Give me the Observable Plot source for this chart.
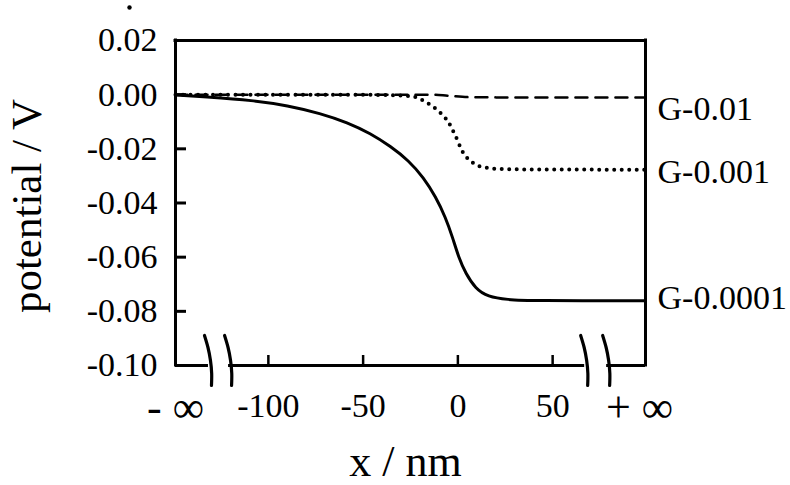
<!DOCTYPE html>
<html><head><meta charset="utf-8">
<script src="https://cdn.jsdelivr.net/npm/d3@7"></script>
<script src="https://cdn.jsdelivr.net/npm/@observablehq/plot@0.6"></script>
<style>
body{margin:0;background:#fff}
#chart{width:790px;height:485px}
</style>
</head><body><div id="chart"></div>
<script>
// ---- data ----
const xDomain = [-149, 99];
const yDomain = [-0.10, 0.02];
const yTicks = [0.02, 0.00, -0.02, -0.04, -0.06, -0.08, -0.10];
const xTicks = [-100, -50, 0, 50];
const infLabels = ["- ∞", "+ ∞"];
const breakX = [-131.6, -121, 66.9, 78.5];
const seriesNames = ["G-0.01", "G-0.001", "G-0.0001"];

const g01X = [-149, -60, -15, -5, 5, 20, 99];
const g01Y = [0, 0, 0, -0.0004, -0.0009, -0.001, -0.001];

const g001X = [-149, -60, -35, -24.1, -20.7, -17, -13.5, -10.2, -7.5, -4.9, -3, -1.2, 0.4, 2.3, 4.6, 7.2, 10.9, 15.5, 19.9, 34.7, 99];
const g001Y = [0, 0, -0.0002, -0.0006, -0.0014, -0.0027, -0.0043, -0.006, -0.008, -0.0102, -0.0128, -0.0153, -0.0179, -0.0208, -0.0231, -0.0248, -0.0263, -0.027, -0.0274, -0.0276, -0.0277];

const g0001X = [-149, -134.2, -107.8, -89.9, -72.5, -58.2, -46.1, -35.5, -26, -18.1, -11.8, -6.5, -2.8, 0.4, 4.1, 9.3, 15.7, 26.2, 38.3, 99];
const g0001Y = [-0.0001, -0.0008, -0.0021, -0.004, -0.0069, -0.0103, -0.0143, -0.0191, -0.0243, -0.0306, -0.0376, -0.0453, -0.0527, -0.0601, -0.066, -0.0716, -0.0746, -0.0757, -0.0761, -0.0761];

// ---- layout ----
const W = 790, H = 485, mL = 175, mR = 145, mT = 40, mB = 120;
const pxX = (W - mL - mR) / (xDomain[1] - xDomain[0]);
const pxY = (H - mT - mB) / (yDomain[1] - yDomain[0]);
const font = "'Liberation Serif', 'Times New Roman', serif";

const toRows = (X, Y) => X.map((x, i) => ({x, y: Y[i]}));
const s01 = toRows(g01X, g01Y), s001 = toRows(g001X, g001Y), s0001 = toRows(g0001X, g0001Y);
const labelDy = [12, 2, -3];
const labelMarks = [[g01X, g01Y], [g001X, g001Y], [g0001X, g0001Y]].map(([X, Y], i) =>
  Plot.text([{name: seriesNames[i], x: X.at(-1), y: Y.at(-1)}], {
    x: "x", y: "y", text: "name", dx: 12, dy: labelDy[i], textAnchor: "start",
    fontSize: 34, fontFamily: font, fill: "black"
  })
);

// break mark shape (pixel offsets) converted to data units
const shape = [[-4, -30], [-0.5, -18], [2, -5], [3.2, 8], [3, 20]];
const breaks = breakX.flatMap((bx, k) => shape.map(([dx, dy]) => ({k, x: bx + dx / pxX, y: yDomain[0] - dy / pxY})));

const bottomSegs = [
  {x1: xDomain[0], x2: breakX[0]},
  {x1: breakX[1], x2: breakX[2]},
  {x1: breakX[3], x2: xDomain[1]}
];
const infRows = [{x: xDomain[0], t: infLabels[0]}, {x: xDomain[1], t: infLabels[1]}];

const chart = Plot.plot({
  width: W, height: H,
  marginLeft: mL, marginRight: mR, marginTop: mT, marginBottom: mB,
  x: {domain: xDomain},
  y: {domain: yDomain},
  style: {fontFamily: font, background: "white", color: "black", overflow: "visible"},
  marks: [
    // frame
    Plot.ruleY([yDomain[1]], {x1: xDomain[0], x2: xDomain[1], stroke: "black", strokeWidth: 3, strokeLinecap: "square"}),
    Plot.ruleX([xDomain[0], xDomain[1]], {y1: yDomain[0], y2: yDomain[1], stroke: "black", strokeWidth: 3, strokeLinecap: "square"}),
    Plot.ruleY(bottomSegs, {y: yDomain[0], x1: "x1", x2: "x2", stroke: "black", strokeWidth: 3}),
    // tick marks (inward)
    Plot.ruleY(yTicks.slice(1, -1), {y: d => d, x1: xDomain[0], x2: xDomain[0] + 11 / pxX, stroke: "black", strokeWidth: 3}),
    Plot.ruleX(xTicks, {x: d => d, y1: yDomain[0], y2: yDomain[0] + 10 / pxY, stroke: "black", strokeWidth: 2.5}),
    // break marks
    Plot.line(breaks, {x: "x", y: "y", z: "k", curve: "natural", stroke: "black", strokeWidth: 3.2}),
    // axes labels
    Plot.axisY({ticks: yTicks, label: null, tickSize: 0, tickPadding: 18, tickFormat: d => d.toFixed(2), fontSize: 34, fontFamily: font}),
    Plot.axisX({ticks: xTicks, label: null, tickSize: 0, tickPadding: 27, tickFormat: d => String(d), fontSize: 34, fontFamily: font}),
    Plot.text(infRows.slice(0, 1), {x: "x", frameAnchor: "bottom", dy: 42, dx: 0, text: "t", textAnchor: "middle", lineAnchor: "middle", fontSize: 44, fontFamily: font, fill: "black"}),
    Plot.text(infRows.slice(1), {x: "x", frameAnchor: "bottom", dy: 42, dx: -6, text: "t", textAnchor: "middle", lineAnchor: "middle", fontSize: 44, fontFamily: font, fill: "black"}),
    // series
    Plot.line(s0001, {x: "x", y: "y", curve: "basis", stroke: "black", strokeWidth: 3}),
    Plot.line(s001, {x: "x", y: "y", curve: "monotone-x", stroke: "black", strokeWidth: 4, strokeDasharray: "0,7.5", strokeLinecap: "round"}),
    Plot.line(s01, {x: "x", y: "y", curve: "monotone-x", stroke: "black", strokeWidth: 2.5, strokeDasharray: "12,8"}),
    ...labelMarks,
    // titles
    Plot.text(["potential / V"], {frameAnchor: "left", dx: -148, dy: 3, rotate: -90, text: d => d, textAnchor: "middle", lineAnchor: "middle", fontSize: 43, fontFamily: font, fill: "black"}),
    Plot.text(["x / nm"], {frameAnchor: "bottom", dx: -5, dy: 96, text: d => d, textAnchor: "middle", lineAnchor: "middle", fontSize: 44, fontFamily: font, fill: "black"}),
    Plot.dot([0], {frameAnchor: "top-left", dx: -46, dy: -33, r: 2.2, fill: "black", stroke: null})
  ]
});
document.getElementById("chart").appendChild(chart);
</script></body></html>
